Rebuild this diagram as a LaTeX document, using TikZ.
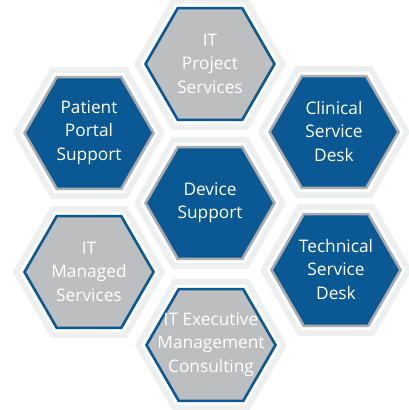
\documentclass[tikz,border=0pt]{standalone}
\usepackage{fontspec}
\setmainfont{Open Sans}
\definecolor{hexblue}{HTML}{0A5894}
\definecolor{hexgray}{HTML}{BCBEC0}
\definecolor{rimgray}{HTML}{A9ABAE}
\definecolor{bandgray}{HTML}{EEF0F0}
\tikzset{
  hextext/.style={text=white, align=center, inner sep=0pt,
    font=\fontsize{17.3}{23.5}\selectfont},
}
\newcommand\hexpath[3]{% center x, center y, radius
  (#1+#3,#2) -- (#1+#3/2,#2+0.8660*#3) -- (#1-#3/2,#2+0.8660*#3) --
  (#1-#3,#2) -- (#1-#3/2,#2-0.8660*#3) -- (#1+#3/2,#2-0.8660*#3) -- cycle}
\begin{document}
\begin{tikzpicture}[x=1pt,y=-1pt]
\fill[white] (0,0) rectangle (409,410);
\useasboundingbox (0,0) rectangle (409,410);
\foreach \cx/\cy/\fc/\bc/\nm/\tx in {
  210/64/hexgray/hexblue/proj/{IT\\Project\\Services},
  89/133/hexblue/rimgray/portal/{Patient\\Portal\\Support},
  334/132/hexblue/rimgray/clin/{Clinical\\Service\\Desk},
  210/203/hexblue/rimgray/dev/{Device\\Support},
  89/272/hexgray/hexblue/man/{IT\\Managed\\Services},
  336/270/hexblue/rimgray/tech/{Technical\\Service\\Desk},
  211/345/hexgray/hexblue/exec/{IT Executive\\Management\\Consulting}}
{
  \fill[bandgray] \hexpath{\cx}{\cy}{76};
  \fill[white] \hexpath{\cx}{\cy}{69.5};
  \filldraw[fill=\fc, draw=\bc, line width=2.6pt, line join=miter] \hexpath{\cx}{\cy}{64.5};
  \node[hextext] (\nm) at (\cx,\cy-0.5) {\tx};
}
\end{tikzpicture}
\end{document}
